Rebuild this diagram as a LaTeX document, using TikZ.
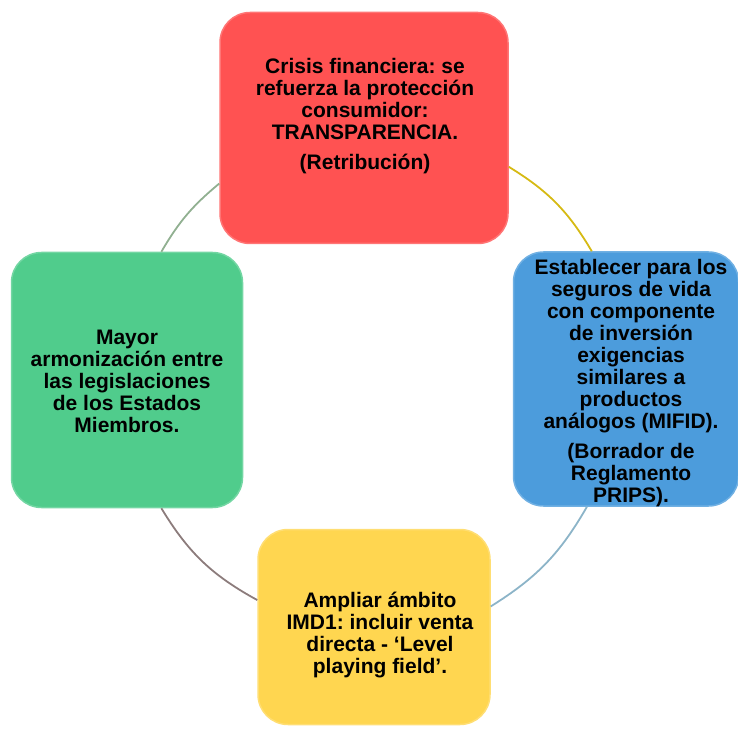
\documentclass[tikz,border=0pt]{standalone}
\usepackage{fontspec}
\setmainfont{Liberation Sans}
\usepackage{tikz}
\frenchspacing
\definecolor{boxred}{RGB}{255,82,82}
\definecolor{boxblue}{RGB}{76,156,220}
\definecolor{boxgreen}{RGB}{80,204,140}
\definecolor{boxyellow}{RGB}{255,214,80}
\definecolor{linkgold}{RGB}{214,186,20}
\definecolor{linksky}{RGB}{140,180,200}
\definecolor{linkbrown}{RGB}{140,124,124}
\definecolor{linksage}{RGB}{145,176,145}

\begin{document}
\begin{tikzpicture}[x=1pt,y=1pt,
  box/.style={rectangle,rounded corners=30pt,line width=1.5pt},
  txt/.style={align=center,font=\fontsize{21}{22}\selectfont\bfseries},
  link/.style={line width=1.8pt}]
\useasboundingbox (0,0) rectangle (738,729);
% the four boxes
\node[box,fill=boxred,draw=boxred!80!white,minimum width=288pt,minimum height=231pt] (red) at (364,601) {};
\node[box,fill=boxblue,draw=boxblue!80!white,minimum width=225pt,minimum height=254pt] (blue) at (626,350) {};
\node[box,fill=boxyellow,draw=boxyellow!80!white,minimum width=232pt,minimum height=195pt] (yellow) at (374,102) {};
\node[box,fill=boxgreen,draw=boxgreen!80!white,minimum width=231pt,minimum height=255pt] (green) at (127,349) {};
% texts
\node[txt] (redtxt) at (365,613) {Crisis financiera: se\\refuerza la protección\\consumidor:\\TRANSPARENCIA.\\[8pt](Retribución)};
\node[txt] (bluetxt) at (631,346) {Establecer para los\\seguros de vida\\con componente\\de inversión\\exigencias\\similares a\\productos\\análogos (MIFID).\\[8pt](Borrador de\\Reglamento\\PRIPS).};
\node[txt] (yellowtxt) at (380,94) {Ampliar ámbito\\IMD1: incluir venta\\directa - ‘Level\\playing field’.};
\node[txt] (greentxt) at (127,348) {Mayor\\armonización entre\\las legislaciones\\de los Estados\\Miembros.};
% arcs round the circle
\draw[link,linkgold] (red.-15) to[bend left=14] (blue.105);
\draw[link,linksky] (blue.-107) to[bend left=14] (yellow.10);
\draw[link,linkbrown] (yellow.167) to[bend left=15] (green.-75);
\draw[link,linksage] (green.75) to[bend left=10] (red.201);
\end{tikzpicture}
\end{document}
